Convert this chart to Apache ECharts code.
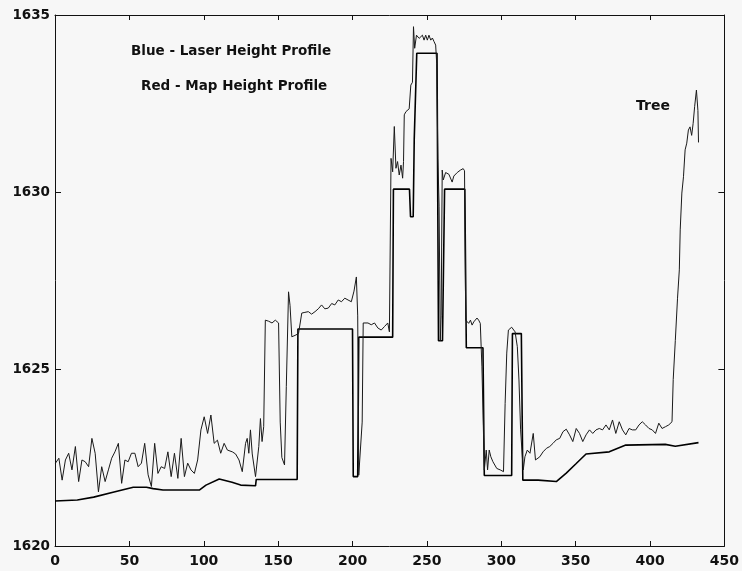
<!DOCTYPE html>
<html>
<head>
<meta charset="utf-8">
<script src="https://cdn.jsdelivr.net/npm/echarts@6/dist/echarts.min.js"></script>
<style>
  html, body { margin: 0; padding: 0; background: #f7f7f7; }
  #chart { width: 742px; height: 571px; }
</style>
</head>
<body>
<div id="chart"></div>
<script>
// Axis ranges and tick spacing
const xRange = [0, 450];
const xStep = 50;
const yRange = [1620, 1635];
const yStep = 5;

// Laser height profile: [distance, height]
const laserProfile = [
  [0.3,1622.34],[2.6,1622.48],[4.8,1621.86],[7,1622.43],[9.2,1622.62],[11.4,1622.15],[13.7,1622.81],
  [15.9,1621.82],[18.1,1622.43],[20.3,1622.38],[22.6,1622.24],[24.8,1623.04],[27,1622.62],[29.2,1621.53],
  [31.4,1622.24],[33.7,1621.82],[35.9,1622.15],[38.1,1622.48],[40.3,1622.66],[42.6,1622.9],[44.8,1621.77],
  [47,1622.43],[49.2,1622.38],[51.4,1622.62],[53.7,1622.62],[55.9,1622.24],[58.1,1622.34],[60.3,1622.9],
  [62.6,1622.01],[64.8,1621.68],[67,1622.9],[69.2,1622.05],[71.4,1622.24],[73.7,1622.19],[75.9,1622.66],
  [78.1,1621.96],[80.3,1622.62],[82.6,1621.91],[84.8,1623.04],[87,1621.96],[89.2,1622.34],[91.4,1622.15],
  [93.7,1622.05],[95.9,1622.43],[98.1,1623.28],[100.3,1623.65],[102.6,1623.18],[104.8,1623.7],[107,1622.9],
  [109.2,1622.99],[111.4,1622.62],[113.7,1622.9],[115.9,1622.71],
  [117,1622.66],[119.2,1622.66],[121.4,1622.6],[123.7,1622.43],[125.9,1622.1],[127,1622.05],[128.1,1622.9],
  [129.2,1623.04],[130.3,1622.62],[131.4,1623.28],[132.6,1622.6],[133.7,1622.62],[134.8,1621.96],[137,1622.81],
  [138.1,1623.6],[139.2,1622.95],[140.3,1623.37],[141.4,1626.38],[143.6,1626.35],[145.9,1626.3],[148.1,1626.38],
  [150.3,1626.3],[151.4,1623.5],[152.5,1622.5],[154.3,1622.29],[155.5,1624.5],[157,1627.18],[158,1626.8],
  [159.2,1625.91],[161.4,1625.95],[163.7,1626.0],[165.9,1626.58],[168,1626.6],[170.3,1626.62],[172.5,1626.55],
  [174.8,1626.62],[177,1626.7],[179.2,1626.81],[181.4,1626.7],[183.7,1626.72],[186,1626.85],[188.1,1626.81],
  [190.4,1626.95],[192.6,1626.9],[194.8,1627.0],[195.9,1627.04],[197,1626.95],[199.2,1626.9],[201,1627.2],
  [202.6,1627.6],[203.5,1626.5],[204.2,1622.0],[205.5,1622.0],[206.5,1623.5],[207.2,1626.3],
  [208.1,1626.34],[210.4,1626.3],[212.6,1626.25],[214.8,1626.3],[217,1626.16],[219.3,1626.1],[221.5,1626.2],
  [223.7,1626.3],[224.8,1626.05],[225.9,1630.95],[227,1630.57],[228.1,1631.85],[229.2,1630.67],[230.3,1630.86],
  [231.4,1630.48],[232.6,1630.76],[233.7,1630.39],[234.3,1630.86],[234.8,1632.18],[235.9,1632.27],[237,1632.32],
  [238.1,1632.35],[239.2,1633.02],[240.3,1633.1],[241,1634.67],[241.8,1634.06],[243,1634.43],[244.8,1634.34],
  [247,1634.43],[248.1,1634.29],[249.2,1634.43],[250.3,1634.29],[251.4,1634.43],[252.6,1634.29],[253.7,1634.35],
  [254.8,1634.25],[255.9,1634.15],[256.6,1633.63],[257.4,1630.95],[258.2,1629.6],[259,1625.8],[259.6,1626.5],
  [260.3,1630.62],[261,1630.34],[262.6,1630.55],[264.8,1630.5],[267,1630.28],[268.1,1630.45],[270.4,1630.55],
  [272.6,1630.62],[274.4,1630.66],[275.3,1630.6],
  [276.1,1626.38],[278.1,1626.29],[279.3,1626.38],[280.4,1626.24],[281.5,1626.33],[282.6,1626.38],[283.7,1626.44],
  [284.8,1626.38],[285.9,1626.29],[287,1625.06],[287.7,1623.84],[288.6,1622.15],[289.9,1622.71],[290.8,1622.15],
  [291.9,1622.71],[293,1622.52],[294.4,1622.38],[297,1622.19],[299.3,1622.15],[301.5,1622.1],[302.6,1624.03],
  [303.7,1625.45],[304.8,1626.1],[307,1626.18],[309.3,1626.05],[310.8,1625.63],[311.9,1624.69],[313,1623.28],
  [314.1,1622.57],[314.8,1622.15],[315.9,1622.52],[317.5,1622.71],[319.3,1622.62],[321.5,1623.18],[323,1622.43],
  [325.9,1622.52],[328.1,1622.66],[330.4,1622.76],[332.6,1622.81],[334.8,1622.9],[337,1623.0],[339.3,1623.04],
  [341.5,1623.23],[343.7,1623.3],[345.9,1623.14],[348.1,1622.95],[350.4,1623.32],[352.6,1623.18],[354.8,1622.95],
  [357,1623.14],[359.3,1623.28],[361.5,1623.18],[363.7,1623.28],[365.9,1623.32],[368.1,1623.28],[370.4,1623.42],
  [372.6,1623.28],[374.8,1623.56],[377,1623.18],[379.3,1623.51],[381.5,1623.28],[383.7,1623.14],[385.9,1623.32],
  [388.1,1623.28],[390.4,1623.28],[392.6,1623.42],[394.8,1623.51],[397,1623.42],[399.3,1623.32],[401.5,1623.28],
  [403.7,1623.18],[405.9,1623.47],[408.1,1623.32],[410.4,1623.37],[412.6,1623.42],[414.8,1623.51],
  [415.6,1624.7],[417,1625.8],[418.5,1627.0],[419.7,1627.8],[420.3,1628.93],[421.4,1629.97],[422.5,1630.43],
  [423.6,1631.19],[424.7,1631.38],[425.8,1631.75],[426.9,1631.84],[428,1631.6],[429,1631.94],[430,1632.41],
  [431.2,1632.88],[432.2,1632.3],[432.6,1631.4]
];

// Map height profile: [distance, height]
const mapProfile = [
  [0,1621.27],[15,1621.3],[26,1621.38],[39,1621.52],[52.6,1621.66],[61.5,1621.66],[66,1621.62],[72.6,1621.58],
  [97,1621.58],[101.5,1621.72],[110.4,1621.89],[119,1621.8],[124.8,1621.72],[134.8,1621.7],[135.3,1621.88],
  [162.8,1621.88],[163.3,1626.13],[200,1626.13],[200.5,1621.96],[203.5,1621.96],[204.2,1625.9],[227,1625.9],
  [227.5,1630.08],[238.3,1630.08],[239,1629.3],[240.8,1629.3],[241.5,1631.5],[243.2,1633.92],[256.8,1633.92],
  [257.8,1625.8],[260.5,1625.8],[261.9,1630.08],[275.5,1630.08],[276.5,1625.6],[287.7,1625.6],[288.6,1621.99],
  [307,1621.99],[307.5,1626.0],[313.5,1626.0],[314.5,1621.86],[324.8,1621.86],[325.5,1621.82],[337,1621.82],
  [343.7,1622.06],[350.4,1622.33],[357,1622.6],[372.6,1622.66],[383.7,1622.85],[410.3,1622.87],[417,1622.82],
  [432.6,1622.92]
];

// Annotations drawn inside the plot
const legendLines = ['Blue - Laser Height Profile', 'Red - Map Height Profile'];
const treeNote = 'Tree';

const font = 'DejaVu Sans';
const ink = '#111';

const chart = echarts.init(document.getElementById('chart'), null, { renderer: 'canvas' });

const plain = (v) => String(v);

const boxAxisX = (pos, labels) => ({
  type: 'value', position: pos, min: xRange[0], max: xRange[1], interval: xStep,
  axisLine: { show: true, onZero: false, lineStyle: { color: ink, width: 1 } },
  axisTick: { show: true, inside: true, length: 5, lineStyle: { color: ink } },
  axisLabel: { show: labels, color: ink, fontFamily: font, fontWeight: 'bold', fontSize: 14, margin: 8, formatter: plain },
  splitLine: { show: false }
});
const boxAxisY = (pos, labels) => ({
  type: 'value', position: pos, min: yRange[0], max: yRange[1], interval: yStep,
  axisLine: { show: true, onZero: false, lineStyle: { color: ink, width: 1 } },
  axisTick: { show: true, inside: true, length: 6, lineStyle: { color: ink } },
  axisLabel: { show: labels, color: ink, fontFamily: font, fontWeight: 'bold', fontSize: 13.5, margin: 5, formatter: plain },
  splitLine: { show: false }
});

chart.setOption({
  animation: false,
  backgroundColor: '#f7f7f7',
  grid: { left: 55, right: 13, top: 15, bottom: 25, containLabel: false },
  xAxis: [boxAxisX('bottom', true), boxAxisX('top', false)],
  yAxis: [boxAxisY('left', true), boxAxisY('right', false)],
  series: [
    {
      name: 'Laser', type: 'line', data: laserProfile, showSymbol: false,
      lineStyle: { color: '#1a1a1a', width: 1 }, z: 3
    },
    {
      name: 'Map', type: 'line', data: mapProfile, showSymbol: false,
      lineStyle: { color: '#000', width: 1.6 }, z: 2
    }
  ],
  graphic: [
    { type: 'text', left: 131, top: 44, style: { text: legendLines[0], font: 'bold 13.5px "DejaVu Sans"', fill: ink } },
    { type: 'text', left: 141, top: 79, style: { text: legendLines[1], font: 'bold 13.5px "DejaVu Sans"', fill: ink } },
    { type: 'text', left: 636, top: 99, style: { text: treeNote, font: 'bold 14px "DejaVu Sans"', fill: ink } }
  ]
});
</script>
</body>
</html>
